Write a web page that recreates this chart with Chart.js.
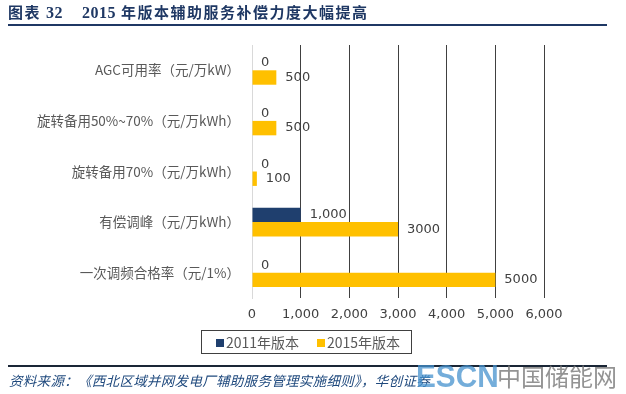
<!DOCTYPE html>
<html>
<head>
<meta charset="utf-8">
<script src="https://cdn.jsdelivr.net/npm/chart.js@4"></script>
<style>
  body { margin: 0; background: #fff; }
  #wrap { position: relative; width: 626px; height: 394px; overflow: hidden; font-family: "Noto Sans CJK SC", sans-serif; }
  #chart { position: absolute; left: 0; top: 0; }
  .t { position: absolute; top: 2px; font-size: 15px; line-height: 20px; font-weight: bold; color: #1F3864; white-space: nowrap; letter-spacing: 1.5px; }
  .t .d { font-family: "Liberation Serif", serif; font-size: 16px; letter-spacing: 0.5px; }
  .rule { position: absolute; left: 8px; width: 599px; height: 2px; }
  .legend { position: absolute; left: 201px; top: 330px; width: 209px; height: 22px; border: 1px solid #404040; font-size: 14px; color: #595959; white-space: nowrap; }
  .legend .item { position: absolute; top: 1px; line-height: 20px; }
  .legend .box { display: inline-block; width: 8px; height: 8px; margin-right: 2px; vertical-align: 1px; }
  .source { position: absolute; left: 9px; top: 371px; font-size: 13.5px; line-height: 18px; font-style: italic; color: #1F497D; white-space: nowrap; letter-spacing: 0.3px; }
  .wm { position: absolute; white-space: nowrap; }
</style>
</head>
<body>
<div id="wrap">
  <canvas id="chart" width="626" height="394"></canvas>
  <div class="t" style="left:8px;">图表 <span class="d">32</span></div>
  <div class="t" style="left:82px;"><span class="d">2015</span> 年版本辅助服务补偿力度大幅提高</div>
  <div class="rule" style="top:24px;background:#1F3864;"></div>
  <div class="legend" id="legend"></div>
  <div class="rule" style="top:365px;background:#1a2636;"></div>
  <div class="source">资料来源：《西北区域并网发电厂辅助服务管理实施细则》，华创证券</div>
  <div class="wm" style="left:416px;top:359px;font-size:32px;line-height:34px;font-weight:bold;color:rgba(70,145,205,0.75);font-family:'Liberation Sans';transform:scaleX(0.93);transform-origin:left;">ESCN</div>
  <div class="wm" style="left:497px;top:362px;font-size:24px;line-height:28px;color:rgba(120,120,120,0.8);">中国储能网</div>
</div>
<script>
const categories = [
  'AGC可用率（元/万kW）',
  '旋转备用50%~70%（元/万kWh）',
  '旋转备用70%（元/万kWh）',
  '有偿调峰（元/万kWh）',
  '一次调频合格率（元/1%）'
];
const seriesNames = ['2011年版本', '2015年版本'];
const values2011 = [0, 0, 0, 1000, 0];
const values2015 = [500, 500, 100, 3000, 5000];
const colors = ['#1F3F6E', '#FFC000'];

// legend in html
document.getElementById('legend').innerHTML = seriesNames.map((n, i) =>
  '<span class="item" style="left:' + (i === 0 ? 14 : 115) + 'px"><span class="box" style="background:' + colors[i] + '"></span>' + n + '</span>'
).join('');

const valueLabels = {
  id: 'valueLabels',
  afterDatasetsDraw(chart) {
    const ctx = chart.ctx;
    ctx.save();
    ctx.font = '13px "DejaVu Sans"';
    ctx.fillStyle = '#404040';
    ctx.textAlign = 'left';
    ctx.textBaseline = 'middle';
    chart.data.datasets.forEach((ds, di) => {
      chart.getDatasetMeta(di).data.forEach((bar, i) => {
        const v = ds.data[i];
        const txt = di === 0 ? v.toLocaleString('en-US') : String(v);
        ctx.fillText(txt, bar.x + 9, bar.y);
      });
    });
    ctx.restore();
  }
};

new Chart(document.getElementById('chart'), {
  type: 'bar',
  data: {
    labels: categories,
    datasets: [
      { label: seriesNames[0], data: values2011, backgroundColor: colors[0] },
      { label: seriesNames[1], data: values2015, backgroundColor: colors[1] }
    ]
  },
  options: {
    indexAxis: 'y',
    responsive: false,
    animation: false,
    events: [],
    layout: { padding: { top: 45, bottom: 68, left: 0, right: 82 } },
    datasets: { bar: { barPercentage: 1, categoryPercentage: 0.57 } },
    plugins: { legend: { display: false }, tooltip: { enabled: false } },
    scales: {
      x: {
        min: 0, max: 6000,
        ticks: {
          stepSize: 1000, padding: 9, color: '#404040',
          font: { family: 'DejaVu Sans', size: 13 },
          callback: v => v.toLocaleString('en-US')
        },
        grid: { drawTicks: false, color: c => c.tick && c.tick.value === 0 ? '#d9d9d9' : '#404040' },
        border: { display: false },
        afterFit: s => { s.height = 28; }
      },
      y: {
        ticks: { padding: 12, color: '#595959', font: { family: 'Noto Sans CJK SC', size: 13.5 } },
        grid: { display: false, drawTicks: false },
        border: { color: '#d9d9d9' },
        afterFit: s => { s.width = 252; }
      }
    }
  },
  plugins: [valueLabels]
});
</script>
</body>
</html>
